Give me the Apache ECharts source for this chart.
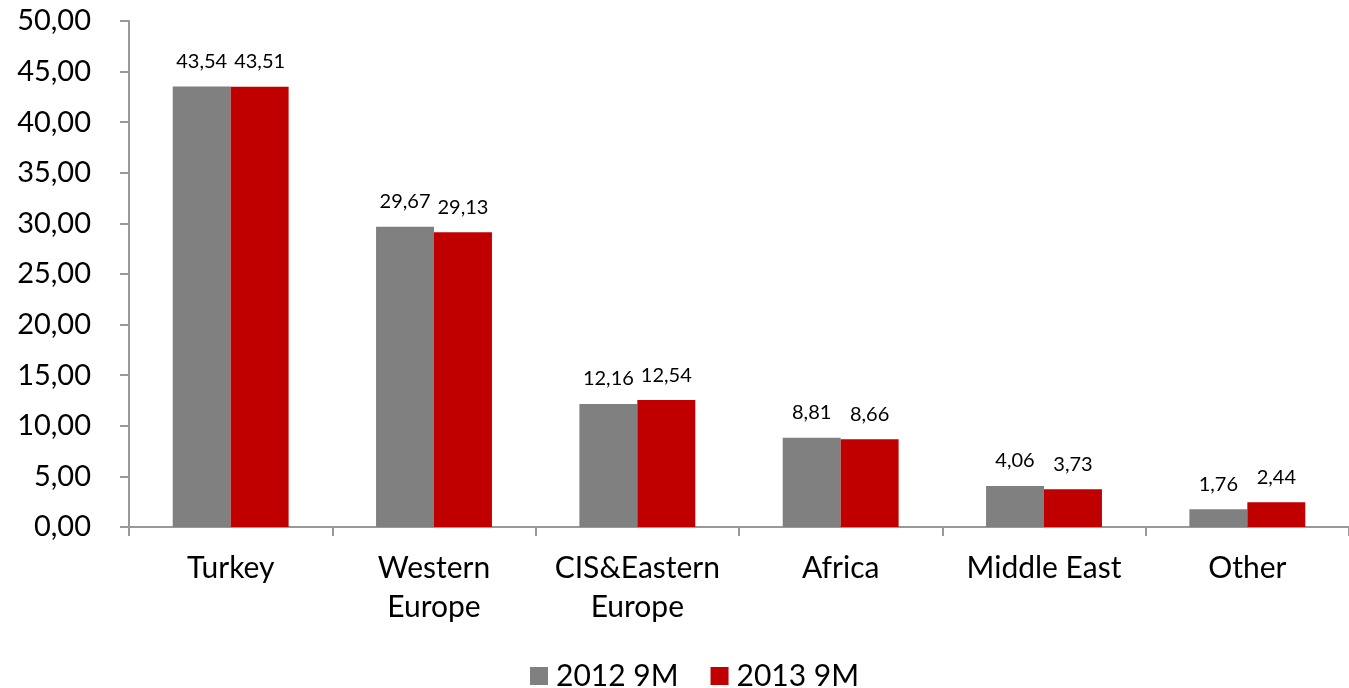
<!DOCTYPE html>
<html><head><meta charset="utf-8">
<script src="https://cdn.jsdelivr.net/npm/echarts@6/dist/echarts.min.js"></script>
<style>html,body{margin:0;padding:0;background:#fff}#c{width:1349px;height:688px}</style>
</head><body><div id="c"></div>
<script>
const categories = ['Turkey', 'Western\nEurope', 'CIS&Eastern\nEurope', 'Africa', 'Middle East', 'Other'];
const series2012 = [43.54, 29.67, 12.16, 8.81, 4.06, 1.76];
const series2013 = [43.51, 29.13, 12.54, 8.66, 3.73, 2.44];
const seriesNames = ['2012 9M', '2013 9M'];
const FONT = 'Lato';
const fmt = v => v.toFixed(2).replace('.', ',');
const chart = echarts.init(document.getElementById('c'));
const lbl = {show: true, position: 'top', distance: 15, fontFamily: FONT, fontSize: 20, color: '#000',
  formatter: p => fmt(p.value)};
chart.setOption({
  animation: false,
  textStyle: {fontFamily: FONT},
  grid: {left: 129, right: -3, top: 21, bottom: 161, containLabel: false},
  legend: {top: 656, left: 525, itemWidth: 18, itemHeight: 18, itemGap: 32,
    textStyle: {fontFamily: FONT, fontSize: 30, color: '#000', padding: [0, 0, 0, 3]},
    data: seriesNames, icon: 'rect'},
  xAxis: {type: 'category', data: categories,
    axisLine: {lineStyle: {color: '#999', width: 2}},
    axisTick: {show: true, length: 9, lineStyle: {color: '#999', width: 2}},
    axisLabel: {fontFamily: FONT, fontSize: 30, color: '#000', margin: 22, lineHeight: 39, interval: 0}},
  yAxis: {type: 'value', min: 0, max: 50, interval: 5,
    splitLine: {show: false},
    axisLine: {show: true, lineStyle: {color: '#999', width: 2}},
    axisTick: {show: true, length: 9, lineStyle: {color: '#999', width: 2}},
    axisLabel: {fontFamily: FONT, fontSize: 29, color: '#000', margin: 38, formatter: v => fmt(v)}},
  series: [
    {name: seriesNames[0], type: 'bar', data: series2012, barGap: '0%', barCategoryGap: '43%',
      itemStyle: {color: '#808080'}, label: lbl},
    {name: seriesNames[1], type: 'bar', data: series2013, barGap: '0%', barCategoryGap: '43%',
      itemStyle: {color: '#C00000'}, label: lbl}
  ]
});
</script></body></html>
